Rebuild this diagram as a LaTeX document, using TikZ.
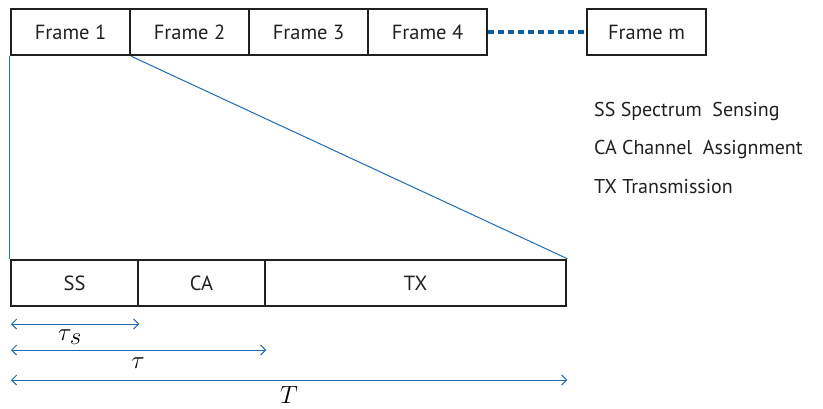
\documentclass[tikz,border=0pt]{standalone}
\usepackage{fontspec}
\setmainfont{PT Sans}
\usetikzlibrary{arrows.meta}
\definecolor{boxline}{HTML}{231F20}
\definecolor{linkblue}{HTML}{1E6BB8}
\definecolor{dotblue}{HTML}{0B5FA5}
\begin{document}
\begin{tikzpicture}[x=1pt,y=-1pt,
  framebox/.style={draw=boxline,line width=2.6pt,minimum width=119pt,minimum height=46pt,inner sep=0pt,font=\fontsize{20.5}{22}\selectfont,text=boxline},
  slotbox/.style={draw=boxline,line width=2.6pt,minimum height=46pt,inner sep=0pt,font=\fontsize{20.5}{22}\selectfont,text=boxline},
  legend/.style={anchor=west,inner sep=0pt,font=\fontsize{20}{22}\selectfont,text=boxline},
  zoomline/.style={draw=linkblue,line width=1pt},
  span/.style={draw=linkblue,line width=1pt,{Straight Barb[length=5pt,width=10pt]}-{Straight Barb[length=5pt,width=10pt]}},
  mathlabel/.style={inner sep=0pt,font=\fontsize{25}{27}\selectfont}]
\useasboundingbox (0,0) rectangle (823,408);

% frame sequence
\node[framebox] (f1) at (70.5,32) {Frame 1};
\node[framebox] (f2) at (189.5,32) {Frame 2};
\node[framebox] (f3) at (308.5,32) {Frame 3};
\node[framebox] (f4) at (427.5,32) {Frame 4};
\node[framebox] (fm) at (646.5,32) {Frame m};
\draw[dotblue,line width=4.5pt,dash pattern=on 5.5pt off 4.5pt] (f4.east) -- (fm.west);

% slots of one frame
\node[slotbox,minimum width=127pt] (ss) at (74.5,283) {SS};
\node[slotbox,minimum width=127pt] (ca) at (201.5,283) {CA};
\node[slotbox,minimum width=301pt] (tx) at (415.5,283) {TX};

% zoom lines from frame 1 to its slots
\draw[zoomline] (f1.south west) -- (ss.north west);
\draw[zoomline] (f1.south east) -- (tx.north east);

% legend
\node[legend] (l1) at (594,111) {SS Spectrum\ \ Sensing};
\node[legend] (l2) at (594,149) {CA Channel\ \ Assignment};
\node[legend] (l3) at (594,187) {TX Transmission};

% durations
\coordinate (a1) at (11,324);
\coordinate (a2) at (11,350);
\coordinate (a3) at (11,380);
\coordinate (b1) at (ss.south east |- a1);
\coordinate (b2) at (ca.south east |- a2);
\coordinate (b3) at (tx.south east |- a3);
\draw[span] (a1) -- (b1);
\draw[span] (a2) -- (b2);
\draw[span] (a3) -- (b3);
\node[mathlabel] (ts) at (70,337) {$\tau_{\mkern1mu\textstyle s}$};
\node[mathlabel] (t) at (138,363) {$\tau$};
\node[mathlabel] (tt) at (289,395) {$T$};
\end{tikzpicture}
\end{document}
